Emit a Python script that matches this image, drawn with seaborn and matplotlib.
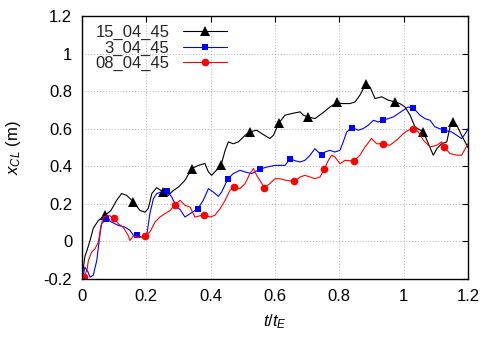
import numpy as np
import pandas as pd
import seaborn as sns
import matplotlib.pyplot as plt
from matplotlib.ticker import FuncFormatter, MultipleLocator

# series 15_04_45 (black, triangles)
t_15 = [0.0, 0.009, 0.015, 0.025, 0.035, 0.05, 0.072, 0.09, 0.108, 0.123,
        0.139, 0.16, 0.18, 0.196, 0.206, 0.217, 0.232, 0.253, 0.268, 0.283,
        0.30, 0.32, 0.341, 0.362, 0.382, 0.393, 0.403, 0.432, 0.445, 0.455,
        0.47, 0.486, 0.507, 0.522, 0.543, 0.559, 0.584, 0.595, 0.611, 0.631,
        0.652, 0.678, 0.688, 0.703, 0.724, 0.745, 0.771, 0.792, 0.807, 0.833,
        0.849, 0.864, 0.882, 0.895, 0.911, 0.932, 0.952, 0.973, 0.988, 1.004,
        1.02, 1.035, 1.061, 1.077, 1.092, 1.103, 1.118, 1.134, 1.144, 1.152,
        1.165, 1.18, 1.2]
x_15 = [-0.19, -0.08, -0.05, 0.005, 0.07, 0.11, 0.14, 0.165, 0.22, 0.255,
        0.245, 0.21, 0.165, 0.156, 0.175, 0.255, 0.286, 0.263, 0.245, 0.27,
        0.29, 0.325, 0.388, 0.405, 0.415, 0.37, 0.352, 0.405, 0.485, 0.53,
        0.52, 0.53, 0.565, 0.583, 0.592, 0.574, 0.548, 0.565, 0.628, 0.672,
        0.681, 0.69, 0.672, 0.663, 0.654, 0.68, 0.716, 0.74, 0.734, 0.734,
        0.743, 0.779, 0.837, 0.823, 0.761, 0.77, 0.752, 0.743, 0.734, 0.716,
        0.672, 0.61, 0.583, 0.52, 0.459, 0.494, 0.52, 0.53, 0.61, 0.636,
        0.619, 0.565, 0.50]
marks_15 = [0.072, 0.16, 0.253, 0.341, 0.432, 0.522, 0.611, 0.703, 0.792,
            0.882, 0.973, 1.061, 1.152]

# series 3_04_45 (blue, squares)
t_3 = [0.0, 0.005, 0.009, 0.018, 0.025, 0.035, 0.046, 0.051, 0.056, 0.061,
       0.075, 0.092, 0.113, 0.134, 0.149, 0.16, 0.17, 0.186, 0.201, 0.211,
       0.222, 0.232, 0.248, 0.265, 0.279, 0.294, 0.305, 0.32, 0.336, 0.36,
       0.377, 0.393, 0.408, 0.424, 0.434, 0.453, 0.47, 0.491, 0.507, 0.527,
       0.553, 0.574, 0.60, 0.615, 0.631, 0.647, 0.662, 0.678, 0.693, 0.709,
       0.724, 0.735, 0.745, 0.755, 0.771, 0.786, 0.802, 0.812, 0.823, 0.84,
       0.859, 0.874, 0.89, 0.906, 0.921, 0.935, 0.952, 0.968, 0.983, 0.999,
       1.014, 1.03, 1.051, 1.066, 1.082, 1.097, 1.125, 1.149, 1.165, 1.18,
       1.19, 1.2]
x_3 = [-0.19, -0.17, -0.137, -0.16, -0.19, -0.18, -0.1, -0.03, 0.04, 0.094,
       0.12, 0.103, 0.085, 0.076, 0.059, 0.032, 0.032, 0.023, 0.032, 0.148,
       0.228, 0.255, 0.263, 0.268, 0.236, 0.183, 0.17, 0.13, 0.148, 0.174,
       0.219, 0.281, 0.263, 0.24, 0.263, 0.331, 0.361, 0.379, 0.37, 0.361,
       0.384, 0.396, 0.405, 0.405, 0.405, 0.441, 0.43, 0.423, 0.432, 0.459,
       0.494, 0.475, 0.459, 0.476, 0.485, 0.476, 0.485, 0.53, 0.583, 0.606,
       0.592, 0.601, 0.619, 0.645, 0.636, 0.645, 0.654, 0.663, 0.68, 0.699,
       0.716, 0.71, 0.672, 0.654, 0.645, 0.61, 0.592, 0.583, 0.565, 0.548,
       0.57, 0.60]
marks_3 = [0.075, 0.17, 0.265, 0.36, 0.453, 0.553, 0.647, 0.745, 0.84,
           0.935, 1.03, 1.125]

# series 08_04_45 (red, circles)
t_08 = [0.005, 0.015, 0.02, 0.03, 0.04, 0.051, 0.058, 0.066, 0.082, 0.10,
        0.113, 0.128, 0.144, 0.149, 0.16, 0.175, 0.196, 0.211, 0.227, 0.242,
        0.258, 0.274, 0.289, 0.305, 0.32, 0.336, 0.351, 0.38, 0.398, 0.413,
        0.429, 0.445, 0.46, 0.473, 0.491, 0.507, 0.522, 0.533, 0.543, 0.567,
        0.584, 0.60, 0.615, 0.635, 0.66, 0.678, 0.693, 0.709, 0.724, 0.74,
        0.753, 0.766, 0.776, 0.786, 0.802, 0.818, 0.846, 0.864, 0.88, 0.90,
        0.916, 0.937, 0.957, 0.978, 0.999, 1.014, 1.03, 1.046, 1.061, 1.082,
        1.103, 1.118, 1.125, 1.144, 1.165, 1.18, 1.2]
x_08 = [-0.19, -0.155, -0.1, -0.057, -0.04, -0.004, 0.076, 0.13, 0.139, 0.126,
        0.094, 0.076, 0.03, 0.005, 0.03, 0.02, 0.03, 0.05, 0.103, 0.13,
        0.148, 0.165, 0.196, 0.219, 0.192, 0.183, 0.13, 0.142, 0.13, 0.139,
        0.174, 0.219, 0.272, 0.29, 0.281, 0.308, 0.361, 0.388, 0.352, 0.286,
        0.308, 0.334, 0.334, 0.325, 0.32, 0.343, 0.352, 0.343, 0.334, 0.343,
        0.386, 0.432, 0.459, 0.45, 0.414, 0.432, 0.428, 0.459, 0.503, 0.548,
        0.52, 0.52, 0.512, 0.539, 0.574, 0.592, 0.601, 0.583, 0.539, 0.503,
        0.512, 0.53, 0.503, 0.468, 0.459, 0.459, 0.52]
marks_08 = [0.005, 0.10, 0.196, 0.289, 0.38, 0.473, 0.567, 0.66, 0.753,
            0.846, 0.937, 1.03, 1.125]

sns.set_theme(style='white')
plt.rcParams['font.family'] = ['Liberation Sans', 'DejaVu Sans']
plt.rcParams['mathtext.fontset'] = 'custom'
plt.rcParams['mathtext.rm'] = 'Liberation Sans'
plt.rcParams['mathtext.it'] = 'Liberation Sans:italic'

fig = plt.figure(figsize=(4.98, 3.49), dpi=100)
ax = fig.add_axes([0.1647, 0.2006, 0.7751, 0.7534])

series = [
    ('15_04_45', t_15, x_15, marks_15, 'black', '^', 6.5),
    ('3_04_45', t_3, x_3, marks_3, '#0000ff', 's', 5),
    ('08_04_45', t_08, x_08, marks_08, '#ff0000', 'o', 5.5),
]
for name, t, x, marks, color, m, ms in series:
    df = pd.DataFrame({'t': t, 'x': x})
    idx = list(np.nonzero(np.isin(df['t'].values, marks))[0])
    sns.lineplot(data=df, x='t', y='x', ax=ax, color=color, linewidth=0.8,
                 marker=m, markersize=ms, markeredgewidth=0, markevery=idx,
                 estimator=None, sort=False, label=name)

ax.set_xlim(0, 1.2)
ax.set_ylim(-0.2, 1.2)
ax.xaxis.set_major_locator(MultipleLocator(0.2))
ax.yaxis.set_major_locator(MultipleLocator(0.2))
fmt = FuncFormatter(lambda v, p: '%g' % round(v, 2))
ax.xaxis.set_major_formatter(fmt)
ax.yaxis.set_major_formatter(fmt)
ax.grid(True, color='#b0b0b0', linestyle=(0, (1, 2)), linewidth=0.7)
ax.tick_params(direction='in', top=True, right=True, length=4, width=0.8,
               labelsize=12, colors='black', pad=7)
for s in ax.spines.values():
    s.set_color('black')
    s.set_linewidth(1.0)

ax.set_xlabel(r'$t/t_E$', fontsize=12, color='black')
ax.set_ylabel(r'$x_{CL}$ (m)', fontsize=12, color='black')
ax.xaxis.set_label_coords(0.5, -0.125)
ax.yaxis.set_label_coords(-0.153, 0.5)

leg = ax.legend(loc='upper left', bbox_to_anchor=(0.035, 0.965), frameon=False,
                markerfirst=False, fontsize=12, handlelength=2.65,
                labelspacing=0.0, handletextpad=0.8, borderaxespad=0,
                borderpad=0)

fig.savefig('out.png', dpi=100)
